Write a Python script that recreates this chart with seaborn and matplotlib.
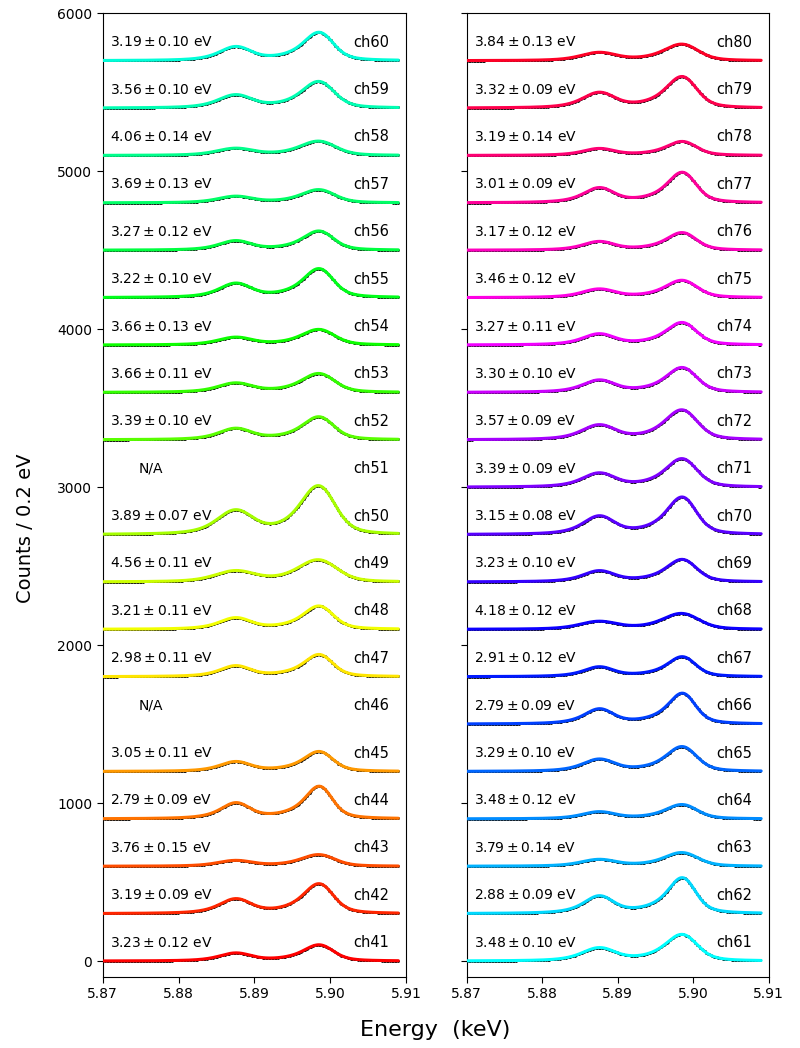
import numpy as np
import pandas as pd
import matplotlib
matplotlib.use("Agg")
import matplotlib.pyplot as plt
import seaborn as sns

sns.set_style("ticks", {"axes.edgecolor": "black", "text.color": "black",
                        "axes.labelcolor": "black", "xtick.color": "black",
                        "ytick.color": "black"})
plt.rcParams["xtick.major.size"] = 4
plt.rcParams["ytick.major.size"] = 4

# channels 41-60 (left panel) and 61-80 (right panel), stacked 300 counts apart
left_channels = list(range(41, 61))
left_fwhm = [3.23, 3.19, 3.76, 2.79, 3.05, np.nan, 2.98, 3.21, 4.56, 3.89,
             np.nan, 3.39, 3.66, 3.66, 3.22, 3.27, 3.69, 4.06, 3.56, 3.19]
left_err = [0.12, 0.09, 0.15, 0.09, 0.11, np.nan, 0.11, 0.11, 0.11, 0.07,
            np.nan, 0.10, 0.11, 0.13, 0.10, 0.12, 0.13, 0.14, 0.10, 0.10]
# Ka1 peak height above baseline (counts)
left_peak = [103, 190, 74, 207, 127, np.nan, 141, 148, 141, 310,
             np.nan, 146, 120, 99, 184, 122, 84, 91, 169, 180]

right_channels = list(range(61, 81))
right_fwhm = [3.48, 2.88, 3.79, 3.48, 3.29, 2.79, 2.91, 4.18, 3.23, 3.15,
              3.39, 3.57, 3.30, 3.27, 3.46, 3.17, 3.01, 3.19, 3.32, 3.84]
right_err = [0.10, 0.09, 0.14, 0.12, 0.10, 0.09, 0.12, 0.12, 0.10, 0.08,
             0.09, 0.09, 0.10, 0.11, 0.12, 0.12, 0.09, 0.14, 0.09, 0.13]
right_peak = [169, 228, 87, 91, 158, 196, 127, 101, 143, 238,
              181, 190, 158, 143, 110, 112, 194, 89, 200, 105]

offset_step = 300

# Mn K-alpha natural line components (Hoelzer 1997): energy eV, lorentz FWHM eV, amplitude
mn_energy = [5898.853, 5897.867, 5894.829, 5896.532, 5899.417, 5887.743, 5886.495]
mn_width = [1.715, 2.043, 4.499, 2.663, 0.969, 2.361, 4.216]
mn_amp = [0.790, 0.264, 0.068, 0.096, 0.0714, 0.372, 0.100]

fine = np.arange(5840.0, 5940.0, 0.02)
natural = np.zeros_like(fine)
for e0, w, a in zip(mn_energy, mn_width, mn_amp):
    natural += a * (w / 2) ** 2 / ((fine - e0) ** 2 + (w / 2) ** 2)

e_fit = np.arange(5870.0, 5909.05, 0.1)
e_bin = np.arange(5870.1, 5909.0, 0.2)


def profile(fwhm, energies):
    sigma = fwhm / 2.3548
    k = np.arange(-6 * sigma, 6 * sigma + 0.02, 0.02)
    kern = np.exp(-0.5 * (k / sigma) ** 2)
    kern /= kern.sum()
    conv = np.convolve(natural, kern, mode="same")
    conv /= conv.max()
    return np.interp(energies, fine, conv)


colors = sns.hls_palette(40, h=0, l=0.5, s=1)

fig = plt.figure(figsize=(8, 10.48), dpi=100)
ax1 = fig.add_axes([0.1284, 0.0679, 0.3790, 0.9194])
ax2 = fig.add_axes([0.5834, 0.0679, 0.3775, 0.9194], sharey=ax1)

panels = [(ax1, left_channels, left_fwhm, left_err, left_peak),
          (ax2, right_channels, right_fwhm, right_err, right_peak)]

for ax, chans, fwhms, errs, peaks in panels:
    for i, (ch, fw, er, pk) in enumerate(zip(chans, fwhms, errs, peaks)):
        off = i * offset_step
        col = colors[ch - 41]
        ax.text(5.9078, off + 117, f"ch{ch}", ha="right", va="center", fontsize=10.5)
        if np.isnan(fw):
            ax.text(5.8747, off + 117, "N/A", ha="left", va="center", fontsize=10)
            continue
        ax.text(5.8709, off + 117, f"${fw:.2f}\\pm{er:.2f}$ eV",
                ha="left", va="center", fontsize=10)
        # measured spectrum (points on the fitted profile) and the fit line
        pts = pd.DataFrame({"E": e_bin / 1000, "y": off + pk * profile(fw, e_bin)})
        sns.scatterplot(data=pts, x="E", y="y", color="k", s=4, linewidth=0,
                        ax=ax, zorder=2)
        fit = pd.DataFrame({"E": e_fit / 1000, "y": off + pk * profile(fw, e_fit)})
        sns.lineplot(data=fit, x="E", y="y", color=col, lw=2.2, ax=ax, zorder=3)

    ax.set_xlim(5.87, 5.91)
    ax.set_xticks([5.87, 5.88, 5.89, 5.90, 5.91])
    ax.set_xticklabels(["5.87", "5.88", "5.89", "5.90", "5.91"])
    ax.set_xlabel("")
    ax.set_ylabel("")

ax1.set_ylim(-100, 6000)
ax1.set_yticks(range(0, 6001, 1000))
ax2.tick_params(labelleft=False)

fig.text(0.032, 0.496, "Counts / 0.2 eV", rotation=90, ha="center", va="center", fontsize=14)
fig.text(0.544, 0.017, "Energy  (keV)", ha="center", va="center", fontsize=16)

fig.savefig("out.png", dpi=100)
